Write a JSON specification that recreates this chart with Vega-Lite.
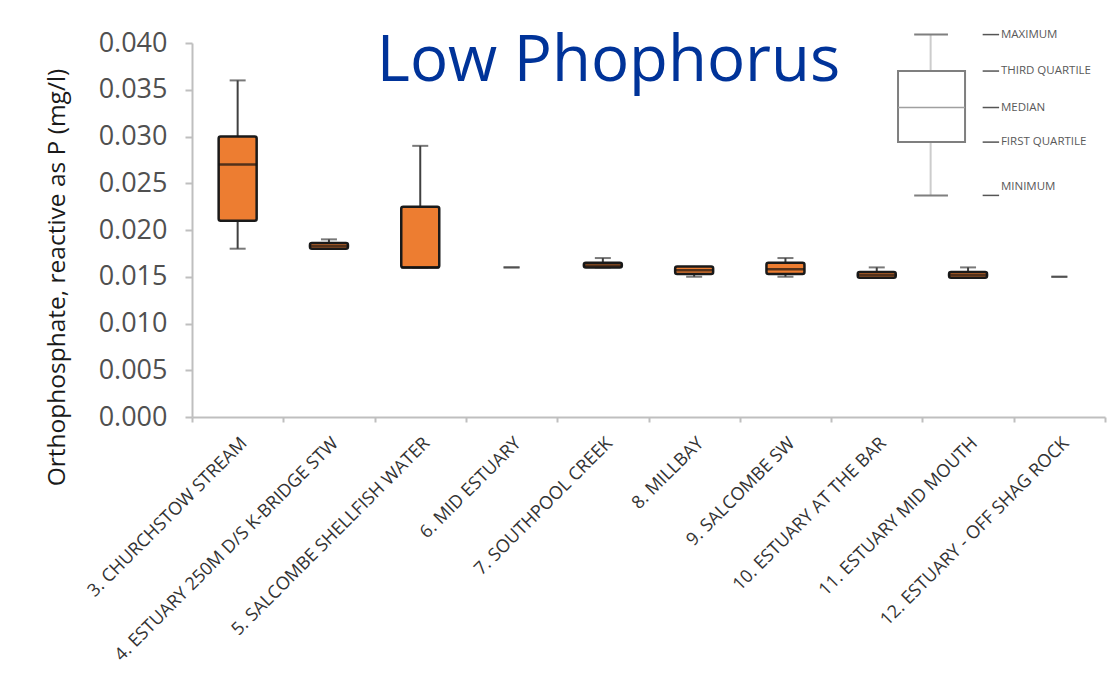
{
  "$schema": "https://vega.github.io/schema/vega-lite/v6.json",
  "width": 913,
  "height": 374,
  "autosize": {"type": "none"},
  "padding": {"left": 192, "top": 43, "right": 5, "bottom": 257},
  "background": "white",
  "config": {"view": {"stroke": null}, "font": "Open Sans"},
  "title": {
    "text": "Low Phophorus",
    "font": "Open Sans",
    "fontSize": 63.5,
    "fontWeight": "normal",
    "color": "#003399",
    "anchor": "middle",
    "frame": "group",
    "orient": "top",
    "offset": 0,
    "baseline": "alphabetic",
    "dy": 116,
    "dx": -40
  },
  "datasets": {
    "stats": [
      {"site": "3. CHURCHSTOW STREAM", "min": 0.018, "q1": 0.021, "median": 0.027, "q3": 0.030, "max": 0.036},
      {"site": "4. ESTUARY 250M D/S K-BRIDGE STW", "min": 0.018, "q1": 0.018, "median": 0.0183, "q3": 0.0186, "max": 0.019},
      {"site": "5. SALCOMBE SHELLFISH WATER", "min": 0.016, "q1": 0.016, "median": 0.016, "q3": 0.0225, "max": 0.029},
      {"site": "6. MID ESTUARY", "min": 0.016, "q1": 0.016, "median": 0.016, "q3": 0.016, "max": 0.016},
      {"site": "7. SOUTHPOOL CREEK", "min": 0.016, "q1": 0.016, "median": 0.0162, "q3": 0.0165, "max": 0.017},
      {"site": "8. MILLBAY", "min": 0.015, "q1": 0.0153, "median": 0.0157, "q3": 0.0161, "max": 0.016},
      {"site": "9. SALCOMBE SW", "min": 0.015, "q1": 0.0153, "median": 0.0158, "q3": 0.0165, "max": 0.017},
      {"site": "10. ESTUARY AT THE BAR", "min": 0.015, "q1": 0.0149, "median": 0.0152, "q3": 0.0155, "max": 0.016},
      {"site": "11. ESTUARY MID MOUTH", "min": 0.015, "q1": 0.0149, "median": 0.0152, "q3": 0.0155, "max": 0.016},
      {"site": "12. ESTUARY - OFF SHAG ROCK", "min": 0.015, "q1": 0.015, "median": 0.015, "q3": 0.015, "max": 0.015}
    ],
    "keybox": [
      {"min": 0.0237, "q1": 0.0294, "median": 0.0331, "q3": 0.0370, "max": 0.0409}
    ],
    "key": [
      {"label": "MAXIMUM", "v": 0.0409},
      {"label": "THIRD QUARTILE", "v": 0.0370},
      {"label": "MEDIAN", "v": 0.0331},
      {"label": "FIRST QUARTILE", "v": 0.0294},
      {"label": "MINIMUM", "v": 0.0237}
    ]
  },
  "layer": [
    {
      "data": {"name": "stats"},
      "encoding": {
        "x": {
          "field": "site",
          "type": "nominal",
          "sort": null,
          "scale": {"paddingInner": 0, "paddingOuter": 0},
          "axis": {
            "title": null,
            "labelAngle": -45,
            "labelFont": "Open Sans",
            "labelFontSize": 18,
            "labelColor": "#333333",
            "labelLimit": 500,
            "labelPadding": 12,
            "tickBand": "extent",
            "tickSize": 5,
            "tickColor": "#bfbfbf",
            "tickWidth": 2,
            "domainColor": "#bfbfbf",
            "domainWidth": 2
          }
        }
      },
      "layer": [
        {
          "mark": {"type": "rule", "color": "#404040", "strokeWidth": 2},
          "encoding": {
            "y": {
              "field": "min",
              "type": "quantitative",
              "scale": {"domain": [0, 0.04], "nice": false},
              "axis": {
                "title": "Orthophosphate, reactive as P (mg/l)",
                "titleFont": "Open Sans",
                "titleFontSize": 24.5,
                "titleFontWeight": "normal",
                "titleColor": "#1a1a1a",
                "titleAngle": -90,
                "titleX": -135,
                "titleY": 234,
                "titleAlign": "center",
                "titleBaseline": "middle",
                "values": [0, 0.005, 0.01, 0.015, 0.02, 0.025, 0.03, 0.035, 0.04],
                "format": ".3f",
                "labelFont": "Open Sans",
                "labelFontSize": 27,
                "labelColor": "#505050",
                "labelPadding": 18,
                "tickSize": 7,
                "tickColor": "#bfbfbf",
                "tickWidth": 2,
                "domainColor": "#bfbfbf",
                "domainWidth": 2,
                "grid": false
              }
            },
            "y2": {"field": "max"}
          }
        },
        {
          "mark": {"type": "tick", "color": "#404040", "size": 16, "thickness": 2},
          "encoding": {"y": {"field": "max", "type": "quantitative"}}
        },
        {
          "mark": {"type": "tick", "color": "#404040", "size": 16, "thickness": 2},
          "encoding": {"y": {"field": "min", "type": "quantitative"}}
        },
        {
          "transform": [{"filter": "datum.q3 > datum.q1"}],
          "mark": {"type": "bar", "size": 38, "color": "#ED7D31", "stroke": "#1a1a1a", "strokeWidth": 2.5, "cornerRadius": 2},
          "encoding": {
            "y": {"field": "q1", "type": "quantitative"},
            "y2": {"field": "q3"}
          }
        },
        {
          "transform": [{"filter": "datum.q3 > datum.q1"}],
          "mark": {"type": "tick", "color": "#111111", "size": 38, "thickness": 2.5},
          "encoding": {"y": {"field": "median", "type": "quantitative"}}
        }
      ]
    },
    {
      "layer": [
        {
          "data": {"name": "keybox"},
          "mark": {"type": "rule", "color": "#cccccc", "strokeWidth": 2},
          "encoding": {
            "x": {"datum": 0.809, "type": "quantitative", "scale": {"domain": [0, 1]}, "axis": null},
            "y": {"field": "min", "type": "quantitative", "scale": {"domain": [0, 0.04], "nice": false}},
            "y2": {"field": "max"}
          }
        },
        {
          "data": {"name": "keybox"},
          "mark": {"type": "rect", "fill": "white", "stroke": "#7f7f7f", "strokeWidth": 2},
          "encoding": {
            "x": {"datum": 0.7733, "type": "quantitative", "scale": {"domain": [0, 1]}, "axis": null},
            "x2": {"datum": 0.8467},
            "y": {"field": "q1", "type": "quantitative", "scale": {"domain": [0, 0.04], "nice": false}},
            "y2": {"field": "q3"}
          }
        },
        {
          "data": {"name": "keybox"},
          "mark": {"type": "rule", "color": "#a0a0a0", "strokeWidth": 1.5},
          "encoding": {
            "x": {"datum": 0.7733, "type": "quantitative", "scale": {"domain": [0, 1]}, "axis": null},
            "x2": {"datum": 0.8467},
            "y": {"field": "median", "type": "quantitative", "scale": {"domain": [0, 0.04], "nice": false}}
          }
        },
        {
          "data": {"name": "key"},
          "transform": [{"filter": "datum.label == 'MAXIMUM' || datum.label == 'MINIMUM'"}],
          "mark": {"type": "rule", "color": "#7f7f7f", "strokeWidth": 2},
          "encoding": {
            "x": {"datum": 0.791, "type": "quantitative", "scale": {"domain": [0, 1]}, "axis": null},
            "x2": {"datum": 0.828},
            "y": {"field": "v", "type": "quantitative", "scale": {"domain": [0, 0.04], "nice": false}}
          }
        },
        {
          "data": {"name": "key"},
          "mark": {"type": "rule", "color": "#555555", "strokeWidth": 1.5},
          "encoding": {
            "x": {"datum": 0.866, "type": "quantitative", "scale": {"domain": [0, 1]}, "axis": null},
            "x2": {"datum": 0.884},
            "y": {"field": "v", "type": "quantitative", "scale": {"domain": [0, 0.04], "nice": false}}
          }
        },
        {
          "data": {"name": "key"},
          "transform": [{"filter": "datum.label != 'MINIMUM'"}],
          "mark": {"type": "text", "align": "left", "baseline": "middle", "font": "Open Sans", "fontSize": 11.5, "color": "#595959"},
          "encoding": {
            "x": {"datum": 0.886, "type": "quantitative", "scale": {"domain": [0, 1]}, "axis": null},
            "y": {"field": "v", "type": "quantitative", "scale": {"domain": [0, 0.04], "nice": false}},
            "text": {"field": "label"}
          }
        },
        {
          "data": {"name": "key"},
          "transform": [{"filter": "datum.label == 'MINIMUM'"}],
          "mark": {"type": "text", "align": "left", "baseline": "middle", "font": "Open Sans", "fontSize": 11.5, "color": "#595959", "dy": -8},
          "encoding": {
            "x": {"datum": 0.886, "type": "quantitative", "scale": {"domain": [0, 1]}, "axis": null},
            "y": {"field": "v", "type": "quantitative", "scale": {"domain": [0, 0.04], "nice": false}},
            "text": {"field": "label"}
          }
        }
      ]
    }
  ],
  "resolve": {"scale": {"x": "independent"}, "axis": {"x": "independent"}}
}
